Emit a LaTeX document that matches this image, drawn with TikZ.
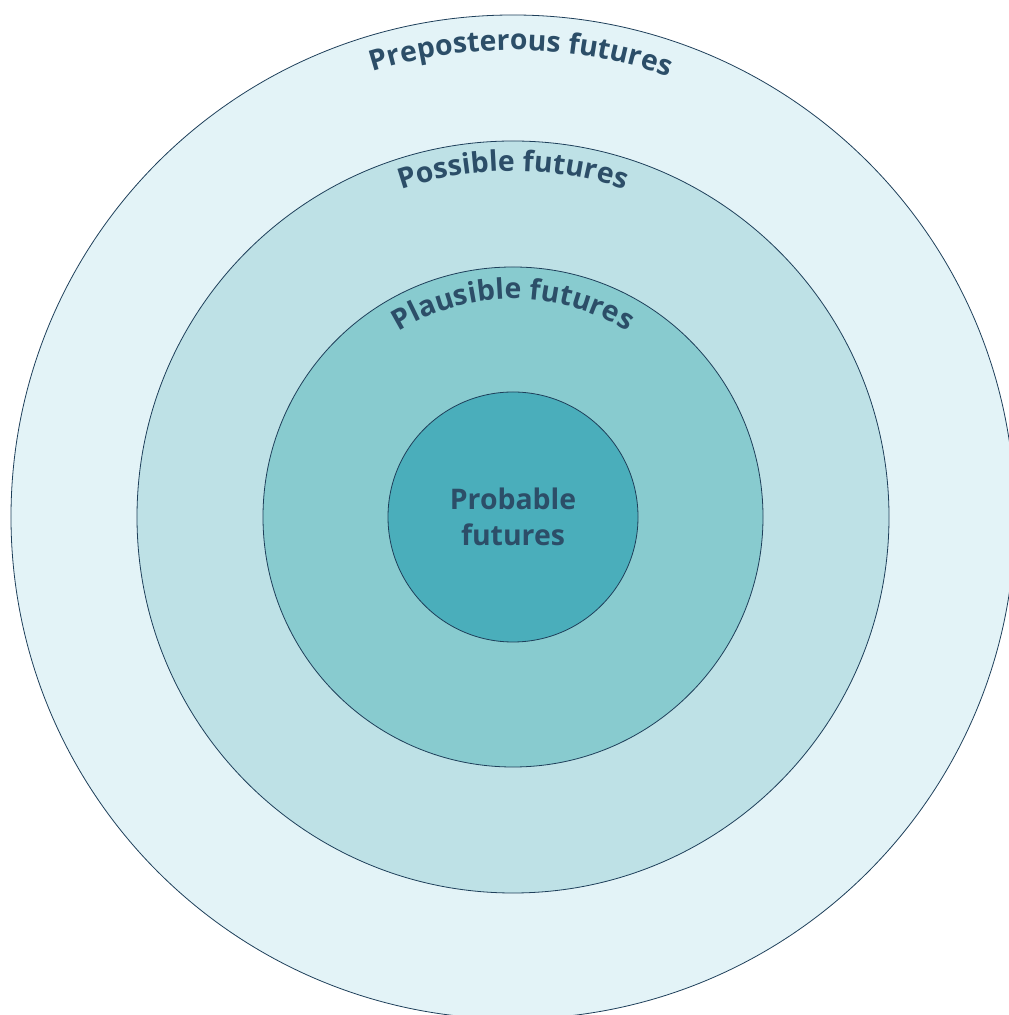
\documentclass[tikz,border=0pt]{standalone}
\usepackage{fontspec}
\setmainfont{Open Sans}
\usepackage{xcolor}
\usetikzlibrary{decorations.text}

\definecolor{edge}{HTML}{1E3F5A}
\definecolor{label}{HTML}{2C4E68}
\definecolor{preposterousfill}{HTML}{E3F3F7}
\definecolor{possiblefill}{HTML}{BEE1E6}
\definecolor{plausiblefill}{HTML}{88CBCF}
\definecolor{probablefill}{HTML}{4AAEBB}

\tikzset{
	ring/.style={circle, draw=edge, line width=0.8bp, inner sep=0pt},
	arclabel/.style={decorate, decoration={text along path, text align=center,
		text={|\fontsize{28.5}{34}\selectfont\bfseries\color{label}|#1}}}
}

\begin{document}
\begin{tikzpicture}[x=1bp,y=1bp]
	\useasboundingbox (0,0) rectangle (1009,1015);
	\clip (0,0) rectangle (1009,1015);
	\coordinate (c) at (513,498);
	
	\node[ring, fill=preposterousfill, minimum size=1004bp] (preposterous) at (c) {};
	\node[ring, fill=possiblefill, minimum size=752bp] (possible) at (c) {};
	\node[ring, fill=plausiblefill, minimum size=500bp] (plausible) at (c) {};
	\node[ring, fill=probablefill, minimum size=250bp, align=center, text=label,
		font=\fontsize{28.5}{36}\selectfont\bfseries] (probable) at (c) {Probable\\futures};
	
	\path[arclabel={Preposterous futures}] (c) ++(179:467) arc[start angle=179, end angle=-1, radius=467];
	\path[arclabel={Possible futures}] (c) ++(180:346) arc[start angle=180, end angle=0, radius=346];
	\path[arclabel={Plausible futures}] (c) ++(180:218) arc[start angle=180, end angle=0, radius=218];
	
\end{tikzpicture}
\end{document}
